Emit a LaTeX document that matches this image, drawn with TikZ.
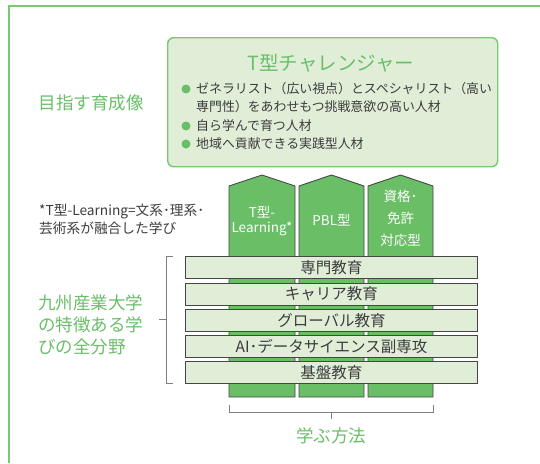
\documentclass[tikz,border=0pt]{standalone}
\usepackage{fontspec}
\setmainfont{Noto Sans CJK JP}
\definecolor{tgreen}{RGB}{106,190,105}
\definecolor{fgreen}{RGB}{120,200,112}
\definecolor{lgreen}{RGB}{224,238,216}
\definecolor{pgreen}{RGB}{106,190,102}
\definecolor{dgray}{RGB}{70,70,70}
\definecolor{tgray}{RGB}{60,60,60}
\tikzset{
  pillar/.style={fill=pgreen,draw=dgray,line width=0.9pt},
  bar/.style={fill=lgreen,draw=dgray,line width=0.9pt,minimum width=292pt,minimum height=22pt,inner sep=0pt,anchor=north west,text=tgray,font=\fontsize{15.5}{16}\selectfont},
  ptext/.style={text=white,font=\fontsize{13.5}{15}\selectfont,inner sep=0pt},
  gtitle/.style={text=tgreen,font=\fontsize{17.5}{22}\selectfont,inner sep=0pt},
  btext/.style={text=tgray,font=\fontsize{12.9}{15}\selectfont,inner sep=0pt,anchor=west},
  bullet/.style={circle,fill=tgreen,minimum size=9pt,inner sep=0pt},
  brk/.style={draw=gray,line width=0.9pt},
}
\begin{document}
\begin{tikzpicture}[x=1pt,y=-1pt]
\useasboundingbox (0,0) rectangle (540,463);
% frame
\draw[fgreen,line width=2pt] (540,6) -- (9,6) -- (9,463);
% top box
\node[draw=fgreen,fill=lgreen,line width=1.4pt,rounded corners=6pt,minimum width=330pt,minimum height=129pt,anchor=north west,inner sep=0pt] (goal) at (167,37) {};
\node[text=tgreen,font=\fontsize{19.5}{22}\selectfont,inner sep=0pt] (title) at (331,63) {T型チャレンジャー};
\node[bullet] (b1) at (186,89) {};
\node[btext] (t1) at (196,89) {ゼネラリスト（広い視点）とスペシャリスト（高い};
\node[btext] (t1b) at (196,107) {専門性）をあわせもつ挑戦意欲の高い人材};
\node[bullet] (b2) at (186,126) {};
\node[btext] (t2) at (196,126) {自ら学んで育つ人材};
\node[bullet] (b3) at (186,144) {};
\node[btext] (t3) at (196,144) {地域へ貢献できる実践型人材};
\node[gtitle] (goalLabel) at (91,103) {目指す育成像};
% pillars
\draw[pillar] (229,397) -- (229,186) -- (262,175) -- (295,186) -- (295,397) -- cycle;
\draw[pillar] (299,397) -- (299,186) -- (331.5,175) -- (364,186) -- (364,397) -- cycle;
\draw[pillar] (368,397) -- (368,186) -- (400.5,175) -- (433,186) -- (433,397) -- cycle;
\node[ptext] (p1a) at (262,212) {T型-};
\node[ptext] (p1b) at (262,229) {Learning*};
\node[ptext] (p2) at (331.5,220) {PBL型};
\node[ptext] (p3a) at (400.5,196) {資格･};
\node[ptext] (p3b) at (400.5,218) {免許};
\node[ptext] (p3c) at (400.5,240) {対応型};
% note
\node[text=tgray,font=\fontsize{13.7}{16}\selectfont,inner sep=0pt,anchor=west] (n1) at (39,211) {*T型-Learning=文系･理系･};
\node[text=tgray,font=\fontsize{13.7}{16}\selectfont,inner sep=0pt,anchor=west] (n2) at (39,228) {芸術系が融合した学び};
% bars
\node[bar] (r1) at (185,256) {専門教育};
\node[bar] (r2) at (185,282.5) {キャリア教育};
\node[bar] (r3) at (185,309) {グローバル教育};
\node[bar] (r4) at (185,335) {AI･データサイエンス副専攻};
\node[bar] (r5) at (185,361) {基盤教育};
% left bracket
\coordinate (lb1) at (173,256);
\coordinate (lb2) at (166,256);
\coordinate (lb3) at (166,383);
\coordinate (lb4) at (173,383);
\coordinate (lbm) at (166,319);
\coordinate (lbm2) at (159,319);
\draw[brk] (lb1) -- (lb2) -- (lb3) -- (lb4);
\draw[brk] (lbm) -- (lbm2);
\node[gtitle,align=left,anchor=north west] (feat) at (38,295) {九州産業大学\\の特徴ある学\\びの全分野};
% bottom bracket
\coordinate (bb1) at (229,405);
\coordinate (bb2) at (229,412);
\coordinate (bb3) at (433,412);
\coordinate (bb4) at (433,405);
\coordinate (bbm) at (331,412);
\coordinate (bbm2) at (331,419);
\draw[brk] (bb1) -- (bb2) -- (bb3) -- (bb4);
\draw[brk] (bbm) -- (bbm2);
\node[gtitle] (method) at (331,436) {学ぶ方法};
\end{tikzpicture}
\end{document}
